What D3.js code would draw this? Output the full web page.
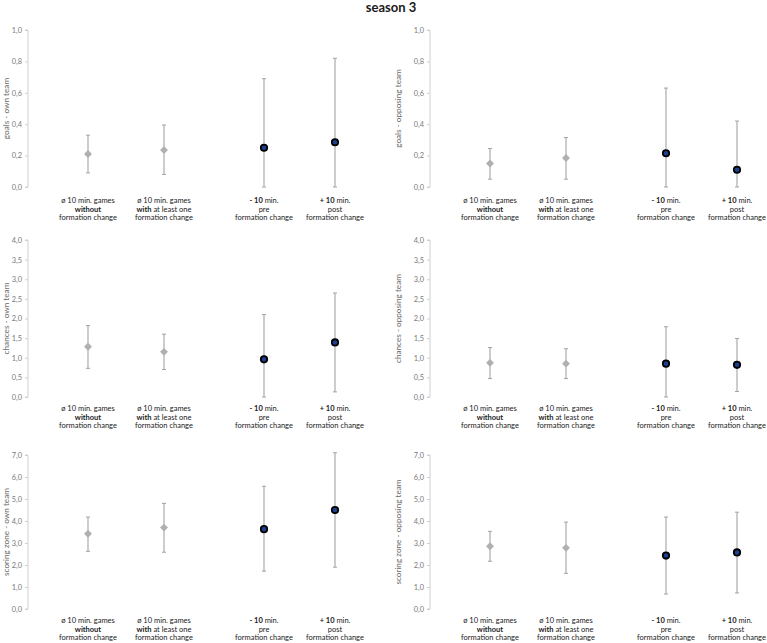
<!DOCTYPE html>
<html><head><meta charset="utf-8">
<script src="https://cdn.jsdelivr.net/npm/d3@7"></script>
<style>body{margin:0;background:#fff}svg{display:block}</style>
</head><body><svg id="c" width="767" height="643"></svg>
<script>
const title = "season 3";
const categories = ["games without", "games with", "pre", "post"];
const panelNames = ["goals - own team","goals - opposing team","chances - own team","chances - opposing team","scoring zone - own team","scoring zone - opposing team"];
const panelMax = [1.0, 1.0, 4.0, 4.0, 7.0, 7.0];
const tickGoals = [0,0.2,0.4,0.6,0.8,1.0];
const tickChances = [0,0.5,1,1.5,2,2.5,3,3.5,4];
const tickZone = [0,1,2,3,4,5,6,7];
const goalsOwnMean = [0.21,0.235,0.25,0.285];
const goalsOwnLow  = [0.09,0.08,0.0,0.0];
const goalsOwnHigh = [0.33,0.395,0.69,0.82];
const goalsOppMean = [0.15,0.185,0.215,0.11];
const goalsOppLow  = [0.05,0.05,0.0,0.0];
const goalsOppHigh = [0.245,0.315,0.63,0.42];
const chancesOwnMean = [1.28,1.15,0.96,1.39];
const chancesOwnLow  = [0.73,0.70,0.0,0.13];
const chancesOwnHigh = [1.82,1.60,2.10,2.65];
const chancesOppMean = [0.87,0.85,0.85,0.82];
const chancesOppLow  = [0.47,0.47,0.0,0.14];
const chancesOppHigh = [1.26,1.23,1.79,1.49];
const zoneOwnMean = [3.42,3.70,3.63,4.50];
const zoneOwnLow  = [2.62,2.58,1.72,1.90];
const zoneOwnHigh = [4.18,4.80,5.58,7.10];
const zoneOppMean = [2.85,2.78,2.43,2.57];
const zoneOppLow  = [2.17,1.62,0.68,0.73];
const zoneOppHigh = [3.53,3.95,4.18,4.40];
const catLabels = [
  [[["ø 10 min. games",false]],[["without",true]],[["formation change",false]]],
  [[["ø 10 min. games",false]],[["with",true],[" at least one",false]],[["formation change",false]]],
  [[["- 10",true],[" min.",false]],[["pre",false]],[["formation change",false]]],
  [[["+ 10",true],[" min.",false]],[["post",false]],[["formation change",false]]]
];

const panelData = [
  [goalsOwnMean,goalsOwnLow,goalsOwnHigh,tickGoals],
  [goalsOppMean,goalsOppLow,goalsOppHigh,tickGoals],
  [chancesOwnMean,chancesOwnLow,chancesOwnHigh,tickChances],
  [chancesOppMean,chancesOppLow,chancesOppHigh,tickChances],
  [zoneOwnMean,zoneOwnLow,zoneOwnHigh,tickZone],
  [zoneOppMean,zoneOppLow,zoneOppHigh,tickZone]
];

const svg = d3.select("#c");
const font = "Lato, 'Open Sans', sans-serif";
svg.append("text").attr("x",391).attr("y",12).attr("text-anchor","middle")
  .attr("font-family",font).attr("font-weight","bold").attr("font-size",13).attr("fill","#1a1a1a").text(title);

const colX = [28, 430];
const labelX = [9, 401];
const rows = [{top:30,bottom:187,lab:16},{top:240,bottom:397,lab:14},{top:455,bottom:609,lab:14}];
const fmt = v => d3.format(".1f")(v).replace(".",",");
const barColor = "#a3a3a3";

panelData.forEach((pd,i)=>{
  const [mean,low,high,ticks] = pd;
  const ax = colX[i%2], r = rows[Math.floor(i/2)];
  const g = svg.append("g");
  const y = d3.scaleLinear().domain([0,panelMax[i]]).range([r.bottom,r.top]);
  const x = d3.scaleOrdinal().domain(categories).range([ax+60, ax+136, ax+236, ax+307]);
  const axis = g.append("g").attr("transform",`translate(${ax},0)`)
    .call(d3.axisLeft(y).tickValues(ticks).tickFormat(fmt).tickSize(3).tickPadding(3));
  axis.select(".domain").attr("stroke","#d0d0d0").attr("d",`M-3,${r.top}H0V${r.bottom}H-3`);
  axis.selectAll(".tick line").attr("stroke","#d0d0d0");
  axis.selectAll(".tick text").attr("font-family",font).attr("font-size",7.4).attr("fill","#7a7a7a");
  g.append("text").attr("transform",`translate(${labelX[i%2]},${(r.top+r.bottom)/2}) rotate(-90)`)
    .attr("text-anchor","middle").attr("font-family",font).attr("font-size",8.2).attr("fill","#6a6a6a")
    .text(panelNames[i]);
  categories.forEach((c,k)=>{
    const cx = x(c);
    g.append("line").attr("x1",cx).attr("x2",cx).attr("y1",y(low[k])).attr("y2",y(high[k]))
      .attr("stroke",barColor).attr("stroke-width",1.1);
    [low[k],high[k]].forEach(v=>{
      g.append("line").attr("x1",cx-2).attr("x2",cx+2).attr("y1",y(v)).attr("y2",y(v))
        .attr("stroke",barColor).attr("stroke-width",1);
    });
    if(k<2){
      g.append("path").attr("d",d3.symbol(d3.symbolDiamond2, 40)())
        .attr("transform",`translate(${cx},${y(mean[k])})`).attr("fill","#b0b0b0");
    } else {
      g.append("circle").attr("cx",cx).attr("cy",y(mean[k])).attr("r",3.2)
        .attr("fill","#1f3f8f").attr("stroke","#000").attr("stroke-width",1.8);
    }
    const t = g.append("text").attr("text-anchor","middle").attr("font-family",font)
      .attr("font-size",7.5).attr("fill","#1a1a1a");
    catLabels[k].forEach((line,li)=>{
      line.forEach((seg,si)=>{
        const ts = t.append("tspan").text(seg[0]).attr("font-weight",seg[1]?"bold":"normal");
        if(si===0) ts.attr("x",cx).attr("y",r.bottom+r.lab+li*8.6);
      });
    });
  });
});
</script></body></html>
